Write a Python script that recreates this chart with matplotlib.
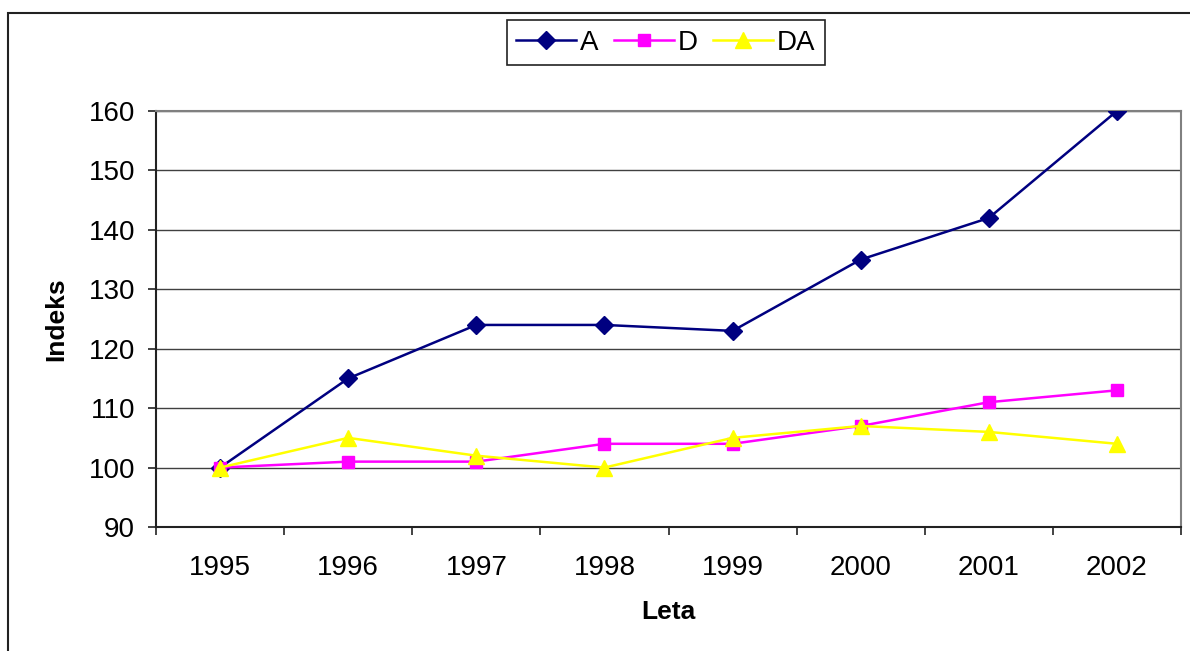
import matplotlib.pyplot as plt
from matplotlib.patches import Rectangle

plt.rcParams['font.family'] = ['Liberation Sans', 'DejaVu Sans']

years = ['1995', '1996', '1997', '1998', '1999', '2000', '2001', '2002']
a_vals = [100, 115, 124, 124, 123, 135, 142, 160]
d_vals = [100, 101, 101, 104, 104, 107, 111, 113]
da_vals = [100, 105, 102, 100, 105, 107, 106, 104]

fig = plt.figure(figsize=(11.9, 6.51), dpi=100)
ax = fig.add_axes([156 / 1190, 1 - 527 / 651, (1181 - 156) / 1190, (527 - 111) / 651])

# outer chart frame (Excel style)
fig.patches.append(Rectangle((8 / 1190, -0.1), 1.2, (651 - 13) / 651 + 0.1,
                             transform=fig.transFigure, fill=False,
                             edgecolor='#222222', linewidth=1.5))

x = range(len(years))
ax.plot(x, a_vals, color='#000080', marker='D', markersize=9, linewidth=1.8,
        label='A', zorder=3)
ax.plot(x, d_vals, color='#FF00FF', marker='s', markersize=9, linewidth=1.8,
        label='D', zorder=3)
ax.plot(x, da_vals, color='#FFFF00', marker='^', markersize=11, linewidth=1.8,
        label='DA', zorder=3)

ax.set_xlim(-0.5, len(years) - 0.5)
ax.set_ylim(90, 160)
ax.set_yticks(range(90, 161, 10))
ax.yaxis.grid(True, color='#404040', linewidth=1)
ax.set_axisbelow(True)

ax.set_xticks(list(x))
ax.set_xticklabels(years)
ax.set_xticks([i - 0.5 for i in range(len(years) + 1)], minor=True)
ax.tick_params(axis='x', which='major', length=0, pad=20, labelsize=20)
ax.tick_params(axis='x', which='minor', length=6, width=1.2, color='#222222')
ax.tick_params(axis='y', length=6, width=1.2, color='#222222', labelsize=20, pad=9)

for side in ['left', 'bottom']:
    ax.spines[side].set_color('#222222')
    ax.spines[side].set_linewidth(1.5)
for side in ['top', 'right']:
    ax.spines[side].set_color('#808080')
    ax.spines[side].set_linewidth(1.5)

ax.set_xlabel('Leta', fontsize=19, fontweight='bold', labelpad=14)
ax.set_ylabel('Indeks', fontsize=19, fontweight='bold', labelpad=15)

leg = fig.legend(loc='upper center', bbox_to_anchor=(666 / 1190, 1 - 20 / 651),
                 ncol=3, fontsize=20, frameon=True, fancybox=False, framealpha=1,
                 handlelength=2.15, handletextpad=0.15, columnspacing=0.55,
                 borderpad=0.35, borderaxespad=0)
leg.get_frame().set_edgecolor('#222222')
leg.get_frame().set_linewidth(1.2)

fig.savefig('out.png', dpi=100)
